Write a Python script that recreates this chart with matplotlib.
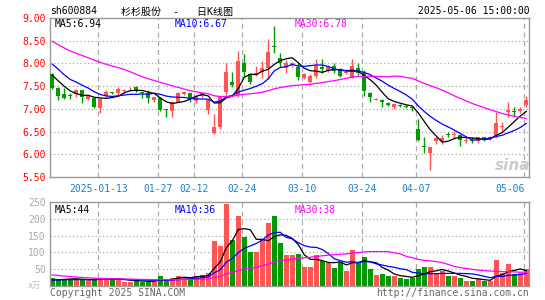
import numpy as np
import pandas as pd
import matplotlib
matplotlib.use("Agg")
import matplotlib.pyplot as plt

plt.rcParams['font.family'] = ['DejaVu Sans Mono', 'Noto Sans CJK SC']

# trading days shown (2024-12-31 .. 2025-05-06), index based x axis
tick_idx = [8, 18, 24, 32, 42, 52, 61, 79]
tick_labels = ["2025-01-13", "01-27", "02-12", "02-24", "03-10", "03-24", "04-07", "05-06"]

opens = [7.76, 7.47, 7.32, 7.31, 7.32, 7.41, 7.21, 7.24, 7.01, 7.28,
         7.37, 7.34, 7.39, 7.45, 7.48, 7.37, 7.34, 7.20, 7.23, 6.98,
         6.96, 7.15, 7.32, 7.34, 7.18, 7.28, 6.97, 6.47, 6.60, 7.38,
         7.60, 7.30, 8.00, 7.76, 7.74, 7.82, 7.89, 8.38, 8.11, 7.91,
         7.96, 7.93, 7.69, 7.60, 7.73, 7.93, 7.84, 7.94, 7.87, 7.80,
         7.69, 7.89, 7.78, 7.35, 7.20, 7.19, 7.12, 7.04, 7.09, 7.06,
         7.04, 6.55, 6.17, 6.03, 6.29, 6.29, 6.44, 6.43, 6.43, 6.30,
         6.31, 6.30, 6.37, 6.35, 6.38, 6.61, 6.93, 6.95, 6.96, 7.08]
closes = [7.45, 7.28, 7.25, 7.29, 7.41, 7.26, 7.28, 7.04, 7.21, 7.37,
          7.34, 7.43, 7.41, 7.46, 7.39, 7.34, 7.24, 7.26, 6.97, 6.97,
          7.15, 7.35, 7.38, 7.23, 7.28, 7.34, 7.19, 6.60, 7.26, 7.82,
          7.52, 8.05, 7.82, 7.60, 7.78, 7.90, 8.26, 8.36, 8.00, 8.00,
          8.00, 7.71, 7.76, 7.73, 7.95, 7.87, 7.93, 7.84, 7.73, 7.82,
          7.94, 7.79, 7.39, 7.26, 7.22, 7.15, 7.08, 7.10, 7.07, 7.05,
          7.02, 6.31, 6.16, 6.16, 6.35, 6.35, 6.43, 6.44, 6.31, 6.31,
          6.30, 6.38, 6.32, 6.39, 6.69, 6.62, 6.97, 6.94, 6.99, 7.20]
highs = [7.78, 7.48, 7.45, 7.36, 7.44, 7.42, 7.30, 7.25, 7.23, 7.41,
         7.38, 7.48, 7.44, 7.49, 7.50, 7.38, 7.41, 7.27, 7.26, 7.00,
         7.16, 7.37, 7.40, 7.35, 7.30, 7.36, 7.22, 6.88, 7.27, 8.00,
         7.82, 8.27, 8.20, 7.78, 7.94, 8.05, 8.54, 8.82, 8.24, 8.07,
         8.03, 8.00, 7.79, 7.76, 8.09, 8.09, 7.96, 8.00, 7.89, 7.87,
         8.09, 8.00, 7.85, 7.37, 7.24, 7.21, 7.14, 7.11, 7.11, 7.09,
         7.07, 6.77, 6.37, 6.17, 6.38, 6.42, 6.49, 6.52, 6.45, 6.38,
         6.37, 6.39, 6.39, 6.40, 6.93, 6.71, 7.14, 7.04, 7.03, 7.28]
lows = [7.44, 7.19, 7.21, 7.21, 7.26, 7.13, 7.20, 7.02, 6.91, 7.26,
        7.32, 7.28, 7.35, 7.40, 7.38, 7.24, 7.13, 7.15, 6.95, 6.82,
        6.81, 7.14, 7.30, 7.16, 7.12, 7.27, 6.88, 6.44, 6.56, 7.31,
        7.48, 7.26, 7.71, 7.54, 7.72, 7.67, 7.65, 8.22, 7.93, 7.79,
        7.93, 7.63, 7.65, 7.58, 7.69, 7.79, 7.81, 7.78, 7.71, 7.76,
        7.68, 7.74, 7.28, 7.16, 7.19, 7.05, 7.06, 6.99, 7.05, 7.02,
        6.95, 6.30, 6.03, 5.65, 6.22, 6.23, 6.37, 6.34, 6.18, 6.25,
        6.24, 6.25, 6.29, 6.32, 6.35, 6.52, 6.83, 6.85, 6.90, 7.03]
# volume in 万手
vols = [25, 21, 21, 21, 19, 18, 18, 18, 25, 25,
        18, 18, 13, 13, 18, 13, 13, 13, 31, 18,
        25, 31, 25, 25, 31, 34, 40, 134, 118, 243,
        138, 209, 146, 101, 101, 138, 187, 209, 127, 92,
        92, 96, 58, 58, 92, 74, 68, 55, 70, 46,
        107, 70, 86, 50, 34, 37, 29, 29, 25, 22,
        25, 52, 57, 57, 35, 44, 29, 29, 25, 16,
        16, 21, 16, 16, 77, 38, 65, 36, 38, 50]

# sessions before the window, only needed for the moving averages
pre_close = [9.6, 9.4, 9.3, 8.9, 8.8, 8.7, 8.6, 8.7, 8.6, 8.5,
             8.5, 8.6, 9.0, 9.1, 8.9, 8.6, 8.4, 8.2, 8.1, 8.3,
             8.4, 8.5, 8.3, 8.0, 7.95, 7.9, 7.85, 7.8, 7.7]
pre_vol = [75, 70, 68, 60, 55, 50, 48, 45, 35, 32,
           30, 30, 28, 28, 27, 26, 26, 26, 25, 26,
           20, 18, 17, 18, 18, 17, 16, 15, 16]

RED = '#ff5555'
GREEN = '#009900'
GRID = '#aaaaaa'
FRAME = '#999999'


def moving_averages(pre, cur):
    s = pd.Series(pre + cur, dtype=float)
    n = len(cur)
    return [s.rolling(w).mean().values[-n:] for w in (5, 10, 30)]


def style_axes(ax):
    for sp in ax.spines.values():
        sp.set_color(FRAME)
        sp.set_linewidth(1)
    ax.tick_params(length=0, pad=3, labelsize=7)
    for t in tick_idx:
        ax.axvline(t - 0.3, color=GRID, lw=0.9, ls=(0, (4, 3)), zorder=0)


fig = plt.figure(figsize=(5.45, 3.0), dpi=100)
ax = fig.add_axes([50 / 545, 1 - 177 / 300, 479 / 545, 159 / 300])
axv = fig.add_axes([50 / 545, 1 - 286 / 300, 479 / 545, 84 / 300])

x = np.arange(len(closes))
o = np.array(opens)
c = np.array(closes)
colors = np.where(c >= o, RED, GREEN)

# candles
ax.vlines(x, lows, highs, colors=colors, lw=1, zorder=2)
body_h = np.maximum(np.abs(c - o), 0.018)
ax.bar(x, body_h, width=0.72, bottom=np.minimum(o, c), color=colors, lw=0, zorder=3)

ma5, ma10, ma30 = moving_averages(pre_close, closes)
ax.plot(x, ma5, color='black', lw=0.9, zorder=4)
ax.plot(x, ma10, color='#0000ff', lw=0.9, zorder=4)
ax.plot(x, ma30, color='#ff00ff', lw=0.9, zorder=4)

ax.set_xlim(-0.38, 79.45)
ax.set_ylim(5.5, 9.0)
yt = np.arange(5.5, 9.01, 0.5)
ax.set_yticks(yt)
ax.set_yticklabels(['%.2f' % v for v in yt], color='#ff0000')
for v in yt[1:-1]:
    ax.axhline(v, color=GRID, lw=0.9, ls=(0, (1, 2)), zorder=0)
style_axes(ax)
ax.set_xticks([t - 0.3 for t in tick_idx])
ax.set_xticklabels(tick_labels, color='#1a7fd0')
ax.tick_params(axis='x', pad=5)
ax.get_xticklabels()[-1].set_ha('right')

ax.text(0.01, 0.96, 'MA5:6.94', transform=ax.transAxes, fontsize=7, color='black', va='center')
ax.text(0.26, 0.96, 'MA10:6.67', transform=ax.transAxes, fontsize=7, color='#0000ff', va='center')
ax.text(0.511, 0.96, 'MA30:6.78', transform=ax.transAxes, fontsize=7, color='#ff00ff', va='center')
ax.text(0.965, 0.075, 'sina', transform=ax.transAxes, fontsize=11, color='#cccccc',
        family='DejaVu Sans', weight='bold', style='italic', ha='center', va='center', zorder=1)

# volume
axv.bar(x, vols, width=0.8, color=colors, lw=0, zorder=2)
v5, v10, v30 = moving_averages(pre_vol, vols)
axv.plot(x, v5, color='black', lw=0.9, zorder=4)
axv.plot(x, v10, color='#0000ff', lw=0.9, zorder=4)
axv.plot(x, v30, color='#ff00ff', lw=0.9, zorder=4)
axv.set_xlim(-0.38, 79.45)
axv.set_ylim(0, 250)
vt = [50, 100, 150, 200, 250]
axv.set_yticks(vt)
axv.set_yticklabels([str(v) for v in vt], color='#aaaaaa')
for v in vt[:-1]:
    axv.axhline(v, color=GRID, lw=0.9, ls=(0, (1, 2)), zorder=0)
style_axes(axv)
axv.set_xticks([])

axv.text(0.01, 0.9, 'MA5:44', transform=axv.transAxes, fontsize=7, color='black', va='center')
axv.text(0.26, 0.9, 'MA10:36', transform=axv.transAxes, fontsize=7, color='#0000ff', va='center')
axv.text(0.511, 0.9, 'MA30:38', transform=axv.transAxes, fontsize=7, color='#ff00ff', va='center')

# header and footer
fig.text(50 / 545, 1 - 11.5 / 300, 'sh600884', fontsize=7, va='center')
fig.text(121 / 545, 1 - 11.5 / 300, '杉杉股份  -   日K线图', fontsize=7.2, va='center')
fig.text(530 / 545, 1 - 11.5 / 300, '2025-05-06 15:00:00', fontsize=7, va='center', ha='right')
fig.text(28 / 545, 1 - 285 / 300, 'x万', fontsize=6, color='#bbbbbb', va='center')
fig.text(50 / 545, 1 - 293 / 300, 'Copyright 2025 SINA.COM', fontsize=7, color='#666666', va='center')
fig.text(529 / 545, 1 - 293 / 300, 'http://finance.sina.com.cn', fontsize=7, color='#666666',
         va='center', ha='right')

fig.savefig('out.png', dpi=100)
